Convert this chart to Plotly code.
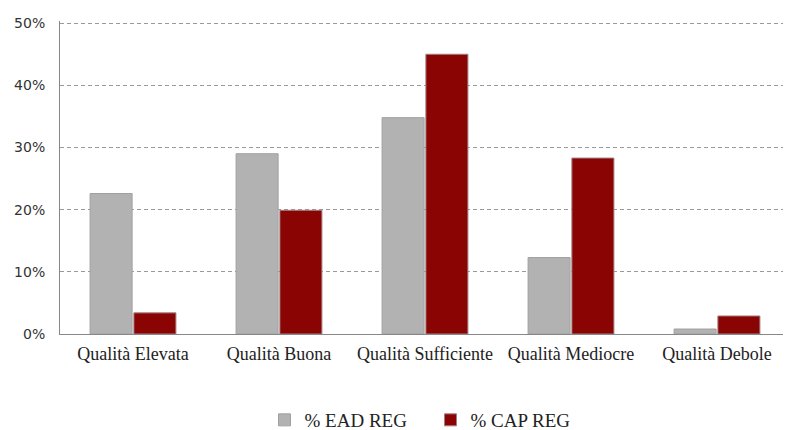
import plotly.graph_objects as go

categories = ["Qualità Elevata", "Qualità Buona", "Qualità Sufficiente", "Qualità Mediocre", "Qualità Debole"]
ead_reg = [22.6, 29.0, 34.8, 12.3, 0.8]
cap_reg = [3.4, 19.9, 45.0, 28.3, 2.9]
y_ticks = [0, 10, 20, 30, 40, 50]
y_tick_labels = ["0%", "10%", "20%", "30%", "40%", "50%"]

fig = go.Figure()
fig.add_trace(go.Bar(
    name="% EAD REG", x=categories, y=ead_reg,
    marker=dict(color="#B2B2B2", line=dict(color="#A0A0A0", width=1)),
))
fig.add_trace(go.Bar(
    name="% CAP REG", x=categories, y=cap_reg,
    marker=dict(color="#8B0404", line=dict(color="#A08080", width=1)),
))

serif = "Liberation Serif, Times New Roman, serif"
sans = "DejaVu Sans, Verdana, sans-serif"
W, H = 783, 422
# page body has an 8px margin, so the figure is drawn offset by 8px
fig.update_layout(
    width=W, height=H,
    margin=dict(l=52, r=1, t=13, b=96),
    paper_bgcolor="white", plot_bgcolor="white",
    barmode="group", bargap=0.4, bargroupgap=0.04,
    font=dict(family=serif, size=18, color="#222222"),
    showlegend=True,
    legend=dict(orientation="h", xref="paper", x=(264.5 - 60) / 730, xanchor="left",
                yref="container", y=1 - 412 / H, yanchor="middle",
                font=dict(family=serif, size=19), itemwidth=30, traceorder="normal",
                entrywidth=121, entrywidthmode="pixels"),
    xaxis=dict(showline=True, linecolor="#888888", linewidth=1, ticks="",
               tickfont=dict(family=serif, size=18), automargin=False,
               ticklabelstandoff=3),
    yaxis=dict(range=[0, 50.35], tickvals=y_ticks, ticktext=y_tick_labels,
               showgrid=True, gridcolor="#9A9A9A", griddash="4px,3px", gridwidth=1,
               showline=True, linecolor="#888888", linewidth=1, ticks="",
               zeroline=False, tickfont=dict(family=sans, size=14, color="#333333"),
               ticklabelstandoff=11, automargin=False),
)
fig.write_html("out.html")
